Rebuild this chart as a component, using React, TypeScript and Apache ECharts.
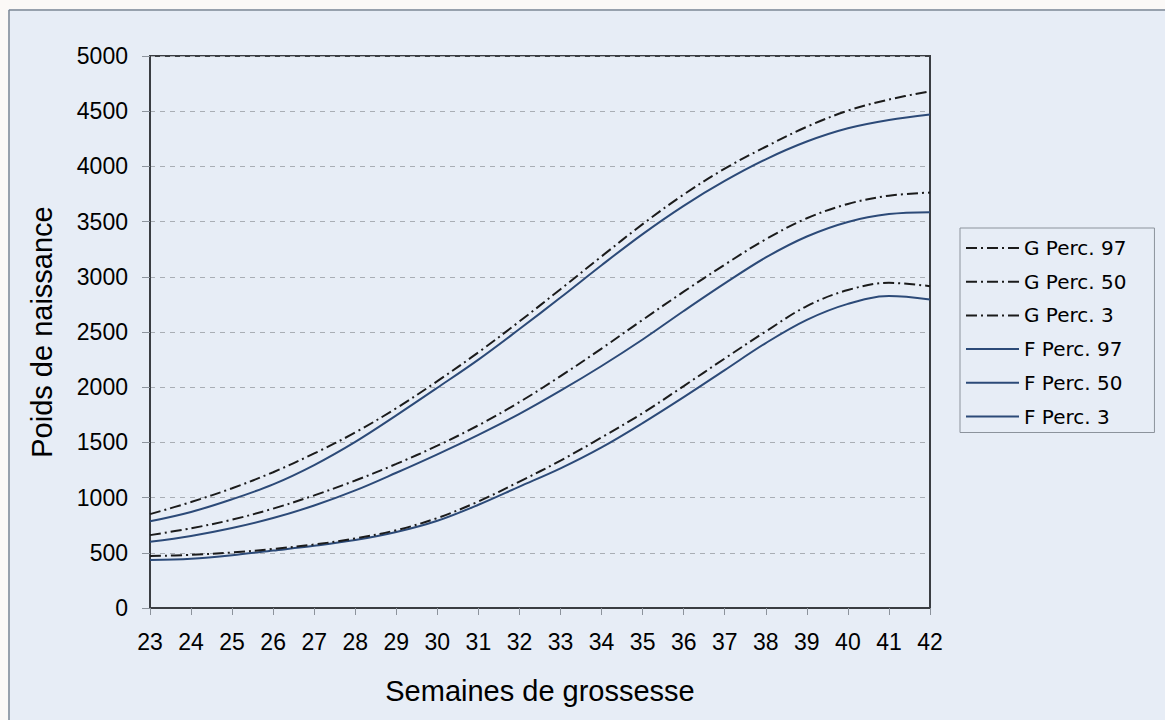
import React, { useEffect, useRef } from "react";
import * as echarts from "echarts";

const weeks = ["23","24","25","26","27","28","29","30","31","32","33","34","35","36","37","38","39","40","41","42"];
const gPerc97 = [850, 960, 1085, 1230, 1400, 1590, 1810, 2055, 2316, 2596, 2888, 3185, 3477, 3745, 3980, 4178, 4359, 4505, 4606, 4680];
const gPerc50 = [660, 722, 800, 900, 1020, 1155, 1305, 1470, 1655, 1865, 2100, 2350, 2610, 2865, 3110, 3340, 3530, 3660, 3735, 3763];
const gPerc3 = [470, 482, 503, 535, 575, 630, 705, 815, 965, 1145, 1335, 1545, 1765, 2010, 2260, 2505, 2735, 2880, 2945, 2915];
const fPerc97 = [785, 870, 985, 1120, 1295, 1505, 1745, 1995, 2250, 2527, 2812, 3105, 3387, 3643, 3868, 4064, 4225, 4345, 4420, 4470];
const fPerc50 = [600, 653, 725, 815, 928, 1065, 1225, 1392, 1568, 1758, 1968, 2192, 2432, 2690, 2940, 3175, 3365, 3497, 3568, 3585];
const fPerc3 = [435, 447, 478, 520, 563, 615, 688, 790, 935, 1100, 1265, 1455, 1675, 1910, 2155, 2400, 2610, 2755, 2825, 2794];

const seriesNames = ["G Perc. 97", "G Perc. 50", "G Perc. 3", "F Perc. 97", "F Perc. 50", "F Perc. 3"];
const seriesValues = [gPerc97, gPerc50, gPerc3, fPerc97, fPerc50, fPerc3];

const FONT = "'Liberation Sans', Arial, sans-serif";

export default function App() {
  const ref = useRef<HTMLDivElement>(null);
  useEffect(() => {
    if (!ref.current) return;
    const chart = echarts.init(ref.current, null, { renderer: "svg" });
    const series = seriesNames.map((name, i) => {
      const isG = i < 3;
      return {
        name,
        type: "line",
        data: seriesValues[i],
        smooth: 0.35,
        symbol: "none",
        showSymbol: false,
        z: isG ? 3 : 2,
        lineStyle: isG
          ? { color: "#1b1b1b", width: 2, type: [11, 4, 2, 4] }
          : { color: "#2c4a78", width: 2, type: "solid" },
        itemStyle: { color: isG ? "#1b1b1b" : "#2c4a78" },
      };
    });
    chart.setOption({
      animation: false,
      backgroundColor: "#e7edf6",
      textStyle: { fontFamily: FONT },
      graphic: [
        { type: "rect", shape: { x: 0, y: 0, width: 1165, height: 9 }, style: { fill: "#fbf9f7" }, silent: true },
        { type: "rect", shape: { x: 0, y: 0, width: 8, height: 720 }, style: { fill: "#fbf9f7" }, silent: true },
        { type: "line", shape: { x1: 9, y1: 10, x2: 1165, y2: 10 }, style: { stroke: "#7d8794", lineWidth: 1.5 }, silent: true },
        { type: "line", shape: { x1: 9, y1: 10, x2: 9, y2: 720 }, style: { stroke: "#7d8794", lineWidth: 1.5 }, silent: true },
      ],
      grid: {
        left: 150,
        right: 235,
        top: 56,
        bottom: 112,
        show: true,
        backgroundColor: "transparent",
        borderColor: "#3a3d42",
        borderWidth: 2,
      },
      legend: {
        orient: "vertical",
        left: 960,
        top: 228,
        data: seriesNames,
        itemWidth: 53,
        itemHeight: 20,
        itemGap: 13.7,
        padding: [10, 28, 6, 5],
        borderColor: "#8c939c",
        borderWidth: 1,
        itemStyle: { opacity: 0 },
        textStyle: { fontFamily: "'DejaVu Sans', sans-serif", fontSize: 20, color: "#000" },
        selectedMode: false,
      },
      xAxis: {
        type: "category",
        data: weeks,
        boundaryGap: false,
        name: "Semaines de grossesse",
        nameLocation: "middle",
        nameGap: 68,
        nameTextStyle: { fontFamily: FONT, fontSize: 29, color: "#000" },
        axisLine: { lineStyle: { color: "#3a3d42", width: 2 } },
        axisTick: { show: true, length: 7, lineStyle: { color: "#8c939c" } },
        axisLabel: { fontFamily: FONT, fontSize: 23, color: "#000", margin: 22 },
        splitLine: { show: false },
      },
      yAxis: {
        type: "value",
        min: 0,
        max: 5000,
        interval: 500,
        name: "Poids de naissance",
        nameLocation: "middle",
        nameGap: 94,
        nameRotate: 90,
        nameTextStyle: { fontFamily: FONT, fontSize: 29, color: "#000" },
        axisLine: { show: true, lineStyle: { color: "#3a3d42", width: 2 } },
        axisTick: { show: true, length: 8, lineStyle: { color: "#8c939c" } },
        axisLabel: {
          fontFamily: FONT,
          fontSize: 23,
          color: "#000",
          margin: 22,
          formatter: (v: number) => String(v),
        },
        splitLine: { show: true, lineStyle: { color: "#a9aeb5", width: 1, type: [5, 5] } },
      },
      series,
    });
    return () => chart.dispose();
  }, []);
  return (
    <div
      ref={ref}
      style={{ position: "absolute", left: 0, top: 0, width: 1165, height: 720 }}
    />
  );
}
